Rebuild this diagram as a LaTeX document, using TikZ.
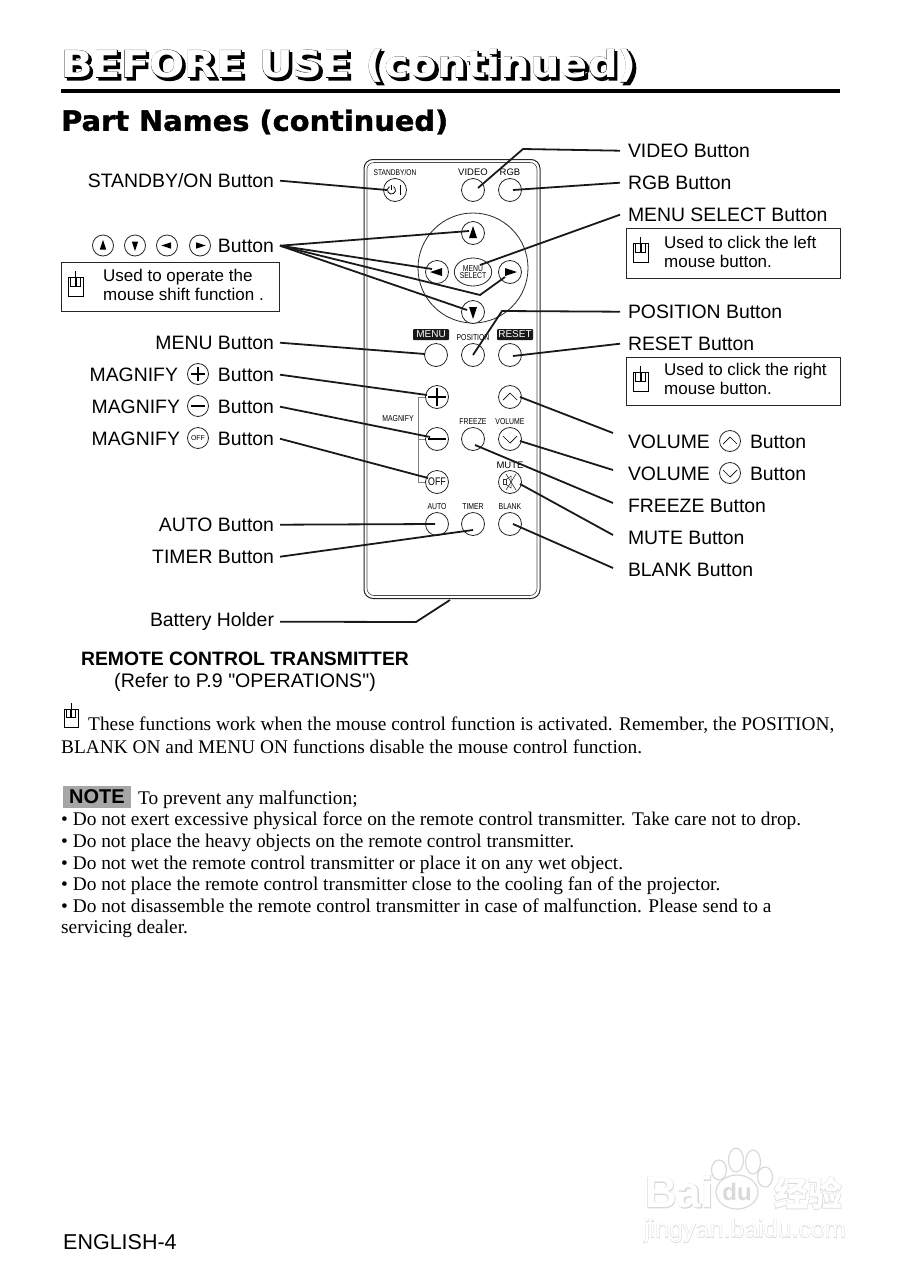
\documentclass[tikz,border=0pt]{standalone}
\usepackage{fontspec}
\usepackage{xcolor}
\setmainfont{Liberation Sans}
\newfontfamily\plainsans{Liberation Sans}
\newfontfamily\serifbody{Liberation Serif}
\newfontfamily\narrowfont[FakeStretch=0.8]{Liberation Sans}
\newfontfamily\headfont[FakeStretch=1.03,FakeBold=1.3]{DejaVu Sans}
\newfontfamily\titlefont[FakeStretch=1.12]{DejaVu Sans}
\newfontfamily\cjkfont{Noto Sans CJK SC}
\usetikzlibrary{positioning,shapes.geometric}
\newcommand{\titlelayers}[1]{\rlap{\kern2.5pt\raisebox{-2.5pt}{\addfontfeature{FakeBold=4}#1}}\rlap{\addfontfeature{FakeBold=2.4}#1}\textcolor{white}{#1}}
\newcommand{\halotext}[1]{\rlap{\addfontfeature{FakeBold=3}\textcolor{black!15}{#1}}\textcolor{white}{#1}}
\tikzstyle{partlabel} = [inner sep=0pt, outer sep=6pt, yshift=-0.7pt, font=\fontsize{19.4}{24}\selectfont]
\tikzstyle{partright} = [partlabel, anchor=west, outer sep=8pt]
\tikzstyle{partleft} = [partlabel, anchor=east]
\tikzstyle{notebox} = [draw=black!85, line width=0.8pt, anchor=north west, inner sep=0pt]
\tikzstyle{notetext} = [anchor=north west, inner sep=0pt, align=left, font=\fontsize{17}{19}\selectfont]
\tikzstyle{btn} = [circle, draw=black!85, line width=0.8pt, minimum size=23pt, inner sep=0pt, fill=white]
\tikzstyle{sign} = [circle, draw=black!85, line width=0.8pt, minimum size=21pt, inner sep=0pt]
\tikzstyle{keyname} = [inner sep=0pt, font=\narrowfont\fontsize{8.6}{9}\selectfont]
\tikzstyle{keyplain} = [inner sep=0pt, font=\fontsize{9.5}{10}\selectfont]
\tikzstyle{keyblack} = [fill=black!90, text=white, inner sep=0pt, minimum width=36pt, minimum height=11pt, rounded corners=1pt, font=\fontsize{10}{10}\selectfont]
\tikzstyle{leader} = [line width=1.8pt, black!90]
\tikzstyle{bodytext} = [anchor=north west, inner sep=0pt, align=left, font=\serifbody\fontsize{19.35}{21.6}\selectfont]
\tikzstyle{toe} = [ellipse, draw=black!15, line width=1.2pt, fill=white, inner sep=0pt]
\tikzset{
  mousesign/.pic={
    \draw[line width=0.8pt] (0,0) rectangle (15,19);
    \draw[line width=0.8pt] (7.5,-6) -- (7.5,0);
    \draw[line width=0.8pt] (2.5,1) -- (2.5,9) -- (7,9) -- (7,1);
    \draw[line width=0.8pt] (8,1) -- (8,9) -- (12.5,9) -- (12.5,1);
  },
  triangle/.pic={\fill (-4,5) -- (4,5) -- (0,-7) -- cycle;},
  chevron/.pic={\draw[line width=0.7pt] (-7,3) -- (0,-4) -- (7,3);},
  crossbar/.pic={\draw[line width=1.3pt] (-9,0) -- (9,0) (0,-9) -- (0,9);},
  minusbar/.pic={\draw[line width=1.3pt] (-9,0) -- (9,0);},
}
\begin{document}
\begin{tikzpicture}[x=1pt,y=-1pt]
\useasboundingbox (0,0) rectangle (903,1280);

\node[anchor=west, inner sep=0pt, font=\titlefont\bfseries\fontsize{37}{40}\selectfont] (title) at (61,67) {\titlelayers{BEFORE USE (continued)}};
\coordinate (ruleleft) at (61,91);
\coordinate (ruleright) at (840,91);
\draw[line width=4pt] (ruleleft) -- (ruleright);
\node[anchor=west, inner sep=0pt, font=\headfont\bfseries\fontsize{28}{30}\selectfont] (parttitle) at (61,122) {Part Names (continued)};

\node[draw=black!85, line width=1pt, rounded corners=9pt, minimum width=176pt, minimum height=439pt, inner sep=0pt] (remote) at (452,379) {};
\node[draw=black!70, line width=0.6pt, rounded corners=7pt, minimum width=170pt, minimum height=433pt, inner sep=0pt] (remoteinner) at (452,379) {};
\node[circle, draw=black!85, line width=0.8pt, minimum size=110pt, inner sep=0pt] (padring) at (473,268) {};

\node[keyname, font=\narrowfont\fontsize{8.3}{9}\selectfont] (stdbyname) at (395,173) {STANDBY/ON};
\node[keyplain] (videoname) at (473,172) {VIDEO};
\node[keyplain] (rgbname) at (510,172) {RGB};
\node[btn] (stdbybtn) at (395,190) {};
\node[btn] (videobtn) at (473,190) {};
\node[btn] (rgbbtn) at (510,190) {};
\draw[line width=0.8pt] ([shift={(-3.5,-5)}]stdbybtn.center) -- ([shift={(-3.5,0)}]stdbybtn.center);
\draw[line width=0.8pt] ([shift={(-5.5,-3.4)}]stdbybtn.center) arc[start angle=120, end angle=420, radius=4pt];
\draw[line width=0.9pt] ([shift={(5,-5)}]stdbybtn.center) -- ([shift={(5,5)}]stdbybtn.center);

\node[btn] (upbtn) at (473,233) {};
\node[btn] (leftbtn) at (437,272) {};
\node[btn] (rightbtn) at (510,272) {};
\node[btn] (downbtn) at (473,312) {};
\node[ellipse, draw=black!85, line width=0.8pt, fill=white, minimum width=37pt, minimum height=28pt, inner sep=0pt, align=center, font=\narrowfont\fontsize{8.5}{7.5}\selectfont] (selectbtn) at (473,272) {MENU\\SELECT};
\pic at (upbtn) {triangle};
\pic[rotate=90] at (leftbtn) {triangle};
\pic[rotate=-90] at (rightbtn) {triangle};
\pic[rotate=180] at (downbtn) {triangle};

\node[keyblack] (menuname) at (431,334.5) {MENU};
\node[keyname] (positionname) at (473,338) {POSITION};
\node[keyblack] (resetname) at (515,334.5) {RESET};
\node[btn] (menubtn) at (436,355) {};
\node[btn] (positionbtn) at (473,355) {};
\node[btn] (resetbtn) at (510,355) {};

\coordinate (bracketa) at (426,397);
\coordinate (bracketb) at (418,397);
\coordinate (bracketc) at (418,482);
\coordinate (bracketd) at (426,482);
\coordinate (brackete) at (418,439);
\coordinate (bracketf) at (426,439);
\draw[black!50, line width=0.9pt] (bracketa) -- (bracketb) -- (bracketc) -- (bracketd);
\draw[black!50, line width=0.9pt] (brackete) -- (bracketf);
\node[btn] (plusbtn) at (437,397) {};
\node[btn] (volupbtn) at (510,397) {};
\node[keyname] (magnifyname) at (398,419) {MAGNIFY};
\node[keyname] (freezename) at (473,422) {FREEZE};
\node[keyname] (volumename) at (510,422) {VOLUME};
\node[btn] (minusbtn) at (437,439) {};
\node[btn] (freezebtn) at (473,439) {};
\node[btn] (voldownbtn) at (510,439) {};
\node[keyplain] (mutename) at (510,465) {MUTE};
\node[btn, font=\narrowfont\fontsize{11}{11}\selectfont] (offbtn) at (437,482) {OFF};
\node[btn] (mutebtn) at (510,482) {};
\node[keyname] (autoname) at (437,507) {AUTO};
\node[keyname] (timername) at (473,507) {TIMER};
\node[keyname] (blankname) at (510,507) {BLANK};
\node[btn] (autobtn) at (437,524) {};
\node[btn] (timerbtn) at (473,524) {};
\node[btn] (blankbtn) at (510,524) {};
\pic at (plusbtn) {crossbar};
\pic at (minusbtn) {minusbar};
\pic at (volupbtn) {chevron};
\pic[rotate=180] at (voldownbtn) {chevron};
\draw[line width=0.5pt, black!80] ([shift={(-7,-2.5)}]mutebtn.center) rectangle ([shift={(-4,2.5)}]mutebtn.center);
\draw[line width=0.5pt, black!80] ([shift={(-4,-2.5)}]mutebtn.center) -- ([shift={(1,-6)}]mutebtn.center) -- ([shift={(1,6)}]mutebtn.center) -- ([shift={(-4,2.5)}]mutebtn.center);
\draw[line width=0.6pt, black!80] ([shift={(-4,-8)}]mutebtn.center) -- ([shift={(6,8)}]mutebtn.center);
\draw[line width=0.6pt, black!80] ([shift={(6,-8)}]mutebtn.center) -- ([shift={(-4,8)}]mutebtn.center);

\node[partleft] (stdbylabel) at (280,180) {STANDBY/ON Button};
\node[sign] (signup) at (103,245.5) {};
\node[sign] (signdown) at (135,245.5) {};
\node[sign] (signleft) at (167,245.5) {};
\node[sign] (signright) at (200,245.5) {};
\pic[scale=0.8] at (signup) {triangle};
\pic[scale=0.8,rotate=180] at (signdown) {triangle};
\pic[scale=0.8,rotate=90] at (signleft) {triangle};
\pic[scale=0.8,rotate=-90] at (signright) {triangle};
\node[partleft] (arrowlabel) at (280,245) {Button};
\node[notebox, minimum width=218pt, minimum height=49pt] (arrowbox) at (61,262) {};
\pic at (68,277) {mousesign};
\node[notetext] (arrownote) at (103,269) {Used to operate the\\mouse shift function .};

\node[partleft] (menulabel) at (280,342) {MENU Button};
\node[anchor=east, partlabel, outer sep=0pt] (magnifya) at (178,374) {MAGNIFY};
\node[sign] (signplus) at (198,374) {};
\pic[scale=0.75] at (signplus) {crossbar};
\node[partleft] (pluslabel) at (280,374) {Button};
\node[anchor=east, partlabel, outer sep=0pt] (magnifyb) at (180,406) {MAGNIFY};
\node[sign] (signminus) at (198,406) {};
\pic[scale=0.75] at (signminus) {minusbar};
\node[partleft] (minuslabel) at (280,406) {Button};
\node[anchor=east, partlabel, outer sep=0pt] (magnifyc) at (180,438) {MAGNIFY};
\node[sign, font=\fontsize{7}{7}\selectfont] (signoff) at (198,438) {OFF};
\node[partleft] (offlabel) at (280,438) {Button};
\node[partleft] (autolabel) at (280,524) {AUTO Button};
\node[partleft] (timerlabel) at (280,556) {TIMER Button};
\node[partleft] (batterylabel) at (280,621) {Battery Holder};

\node[partright] (videolabel) at (620,150) {VIDEO Button};
\node[partright] (rgblabel) at (620,182) {RGB Button};
\node[partright] (selectlabel) at (620,214) {MENU SELECT Button};
\node[notebox, minimum width=214pt, minimum height=50pt] (selectbox) at (626,228) {};
\pic at (633,243) {mousesign};
\node[notetext] (selectnote) at (664,236) {Used to click the left\\mouse button.};
\node[partright] (positionlabel) at (620,311) {POSITION Button};
\node[partright] (resetlabel) at (620,343) {RESET Button};
\node[notebox, minimum width=214pt, minimum height=48pt] (resetbox) at (626,357) {};
\pic at (633,372) {mousesign};
\node[notetext] (resetnote) at (664,363) {Used to click the right\\mouse button.};
\node[partright, outer sep=0pt] (volupname) at (628,441) {VOLUME};
\node[sign] (signvolup) at (730,441) {};
\pic at (signvolup) {chevron};
\node[partright, outer sep=0pt] (volupword) at (750,441) {Button};
\node[partright, outer sep=0pt] (voldownname) at (628,473) {VOLUME};
\node[sign] (signvoldown) at (730,473) {};
\pic[rotate=180] at (signvoldown) {chevron};
\node[partright, outer sep=0pt] (voldownword) at (750,473) {Button};
\node[partright] (freezelabel) at (620,505) {FREEZE Button};
\node[partright] (mutelabel) at (620,537) {MUTE Button};
\node[partright] (blanklabel) at (620,569) {BLANK Button};

\coordinate (videobend) at (523,149);
\coordinate (positionbend) at (502,311);
\coordinate (batterybend) at (416,622);
\coordinate (batteryend) at (450,600);
\coordinate (rightbend) at (480,295);
\coordinate (volupstart) at (613,433);
\coordinate (voldownstart) at (613,470);
\coordinate (freezestart) at (613,503);
\coordinate (mutestart) at (613,535);
\coordinate (blankstart) at (613,568);
\draw[leader] (stdbylabel.east) -- ([shift={(-8,0)}]stdbybtn.center);
\draw[leader] (arrowlabel.east) -- ([shift={(-4,-2)}]upbtn.center);
\draw[leader] (arrowlabel.east) -- ([shift={(-5,-3)}]leftbtn.center);
\draw[leader] (arrowlabel.east) -- (rightbend) -- ([shift={(-5,5)}]rightbtn.center);
\draw[leader] (arrowlabel.east) -- ([shift={(-6,-2)}]downbtn.center);
\draw[leader] (menulabel.east) -- ([shift={(-11,-1)}]menubtn.center);
\draw[leader] (pluslabel.east) -- ([shift={(-10,-2)}]plusbtn.center);
\draw[leader] (minuslabel.east) -- ([shift={(-7,-2)}]minusbtn.center);
\draw[leader] (offlabel.east) -- ([shift={(-9,-4)}]offbtn.center);
\draw[leader] (autolabel.east) -- ([shift={(-2,0)}]autobtn.center);
\draw[leader] (timerlabel.east) -- ([shift={(0,6)}]timerbtn.center);
\draw[leader] (batterylabel.east) -- (batterybend) -- (batteryend);
\draw[leader] (videolabel.west) -- (videobend) -- ([shift={(5,-2)}]videobtn.center);
\draw[leader] (rgblabel.west) -- ([shift={(3,0)}]rgbbtn.center);
\draw[leader] (selectlabel.west) -- ([shift={(7,-7)}]selectbtn.center);
\draw[leader] (positionlabel.west) -- (positionbend) -- (positionbtn.center);
\draw[leader] (resetlabel.west) -- ([shift={(3,1)}]resetbtn.center);
\draw[leader] (volupstart) -- ([shift={(10,0)}]volupbtn.center);
\draw[leader] (voldownstart) -- ([shift={(10,2)}]voldownbtn.center);
\draw[leader] (freezestart) -- ([shift={(2,6)}]freezebtn.center);
\draw[leader] (mutestart) -- ([shift={(10,2)}]mutebtn.center);
\draw[leader] (blankstart) -- ([shift={(3,0)}]blankbtn.center);

\node[inner sep=0pt, font=\bfseries\fontsize{19.35}{24}\selectfont] (remotecaption) at (245,659) {REMOTE CONTROL TRANSMITTER};
\node[inner sep=0pt, font=\plainsans\fontsize{19.6}{24}\selectfont] (remoteref) at (245,682) {(Refer to P.9 "OPERATIONS")};

\pic[scale=0.95] at (64,709) {mousesign};
\node[bodytext, font=\serifbody\fontsize{19.35}{22.6}\selectfont] (mousepara) at (61,717) {\hspace{27pt}These functions work when the mouse control function is activated. Remember, the POSITION,\\BLANK ON and MENU ON functions disable the mouse control function.};
\node[fill=black!35, minimum width=68pt, minimum height=22pt, inner sep=0pt, font=\bfseries\fontsize{20}{22}\selectfont] (notetag) at (97,797) {NOTE};
\node[bodytext] (notepara) at (138,791) {To prevent any malfunction;};
\node[bodytext] (notelist) at (61,812) {• Do not exert excessive physical force on the remote control transmitter. Take care not to drop.\\• Do not place the heavy objects on the remote control transmitter.\\• Do not wet the remote control transmitter or place it on any wet object.\\• Do not place the remote control transmitter close to the cooling fan of the projector.\\• Do not disassemble the remote control transmitter in case of malfunction. Please send to a\\servicing dealer.};
\node[anchor=west, inner sep=0pt, font=\fontsize{21.5}{24}\selectfont] (pagenumber) at (63,1242) {ENGLISH-4};

\node[anchor=west, inner sep=0pt, font=\bfseries\fontsize{44}{46}\selectfont] (wmbai) at (645,1192) {\halotext{Bai}};
\node[toe, minimum width=15pt, minimum height=20pt] (wmtoea) at (719,1170) {};
\node[toe, minimum width=15pt, minimum height=24pt] (wmtoeb) at (736,1160) {};
\node[toe, minimum width=15pt, minimum height=24pt] (wmtoec) at (753,1162) {};
\node[toe, minimum width=15pt, minimum height=20pt] (wmtoed) at (765,1177) {};
\node[toe, minimum width=42pt, minimum height=34pt, font=\bfseries\fontsize{24}{24}\selectfont, text=black!15] (wmdu) at (737,1192) {du};
\node[inner sep=0pt, font=\cjkfont\bfseries\fontsize{34}{36}\selectfont] (wmjy) at (808,1193) {\halotext{经验}};
\node[inner sep=0pt, font=\fontsize{25}{27}\selectfont] (wmurl) at (745,1231) {\halotext{jingyan.baidu.com}};
\end{tikzpicture}
\end{document}
